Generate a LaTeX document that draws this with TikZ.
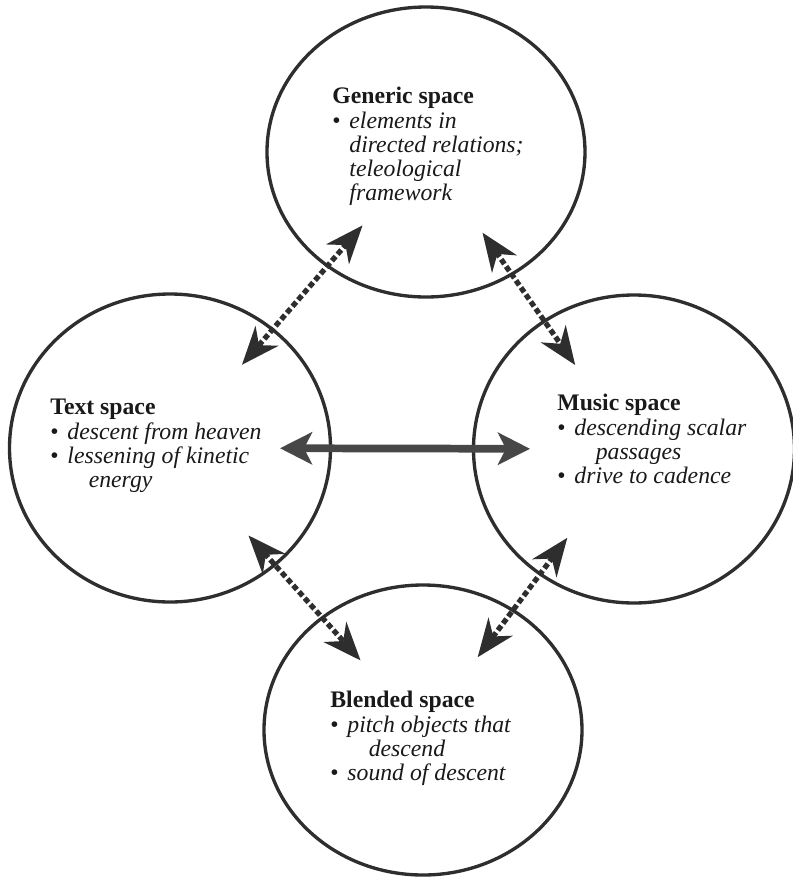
\documentclass[tikz,border=0pt]{standalone}
\usepackage{fontspec}
\setmainfont{Liberation Serif}
\usepackage{tikz}
\usetikzlibrary{positioning}
\usetikzlibrary{shapes.geometric}
\usetikzlibrary{arrows.meta}

\colorlet{ink}{black!82}
\newcommand{\itm}[1]{\makebox[0.72em][l]{\textbullet}\textit{#1}}
\newcommand{\wrapline}[2][1.62em]{\hspace*{#1}\textit{#2}}

\begin{document}
\begin{tikzpicture}
% Style definitions
\tikzset{
    spacering/.style={draw=ink, ellipse, line width=1.9pt, inner sep=0pt},
    sidespace/.style={spacering, minimum width=6.42cm, minimum height=6.16cm},
    endspace/.style={spacering, minimum width=6.36cm, minimum height=5.8cm},
    spacetext/.style={anchor=north west, inner sep=0pt, align=left,
                      text=black!90, font=\fontsize{13.5}{13.8}\selectfont},
    crossmap/.style={ink, line width=3pt, dash pattern=on 3.2pt off 1.7pt,
                     {Stealth[length=0.76cm, width=0.6cm, inset=0.24cm]}-{Stealth[length=0.76cm, width=0.6cm, inset=0.24cm]}},
    directmap/.style={black!72, line width=4.4pt,
                      {Stealth[length=0.64cm, width=0.64cm, inset=0.16cm]}-{Stealth[length=0.64cm, width=0.64cm, inset=0.16cm]}}
}

\useasboundingbox (0,0) rectangle (15.86,-17.54);

% The four spaces
\node[endspace] (gen) at (8.52,-3.04) {};
\node[sidespace] (txt) at (3.40,-8.96) {};
\node[sidespace] (mus) at (12.68,-8.98) {};
\node[endspace] (bld) at (8.46,-14.60) {};

% Contents of each space
\node[spacetext] (gen-text) at (6.64,-1.74) {
    \textbf{Generic space} \\
    \itm{elements in} \\
    \wrapline[0.72em]{directed relations;} \\
    \wrapline[0.72em]{teleological} \\
    \wrapline[0.72em]{framework}
};

\node[spacetext] (txt-text) at (1.00,-7.98) {
    \textbf{Text space} \\
    \itm{descent from heaven} \\
    \itm{lessening of kinetic} \\
    \wrapline{energy}
};

\node[spacetext] (mus-text) at (11.14,-7.88) {
    \textbf{Music space} \\
    \itm{descending scalar} \\
    \wrapline{passages} \\
    \itm{drive to cadence}
};

\node[spacetext] (bld-text) at (6.60,-13.82) {
    \textbf{Blended space} \\
    \itm{pitch objects that} \\
    \wrapline{descend} \\
    \itm{sound of descent}
};

% Mappings between spaces
\draw[crossmap, shorten <=1.94cm, shorten >=2.2cm] (gen.center) -- (txt.center);
\draw[crossmap, shorten <=1.97cm, shorten >=2.05cm] (gen.center) -- (mus.center);
\draw[crossmap, shorten <=2.35cm, shorten >=1.87cm] (txt.center) -- (bld.center);
\draw[crossmap, shorten <=2.22cm, shorten >=1.82cm] (mus.center) -- (bld.center);

\draw[directmap, shorten <=2.2cm, shorten >=2.08cm] (txt.center) -- (mus.center);

\end{tikzpicture}
\end{document}
